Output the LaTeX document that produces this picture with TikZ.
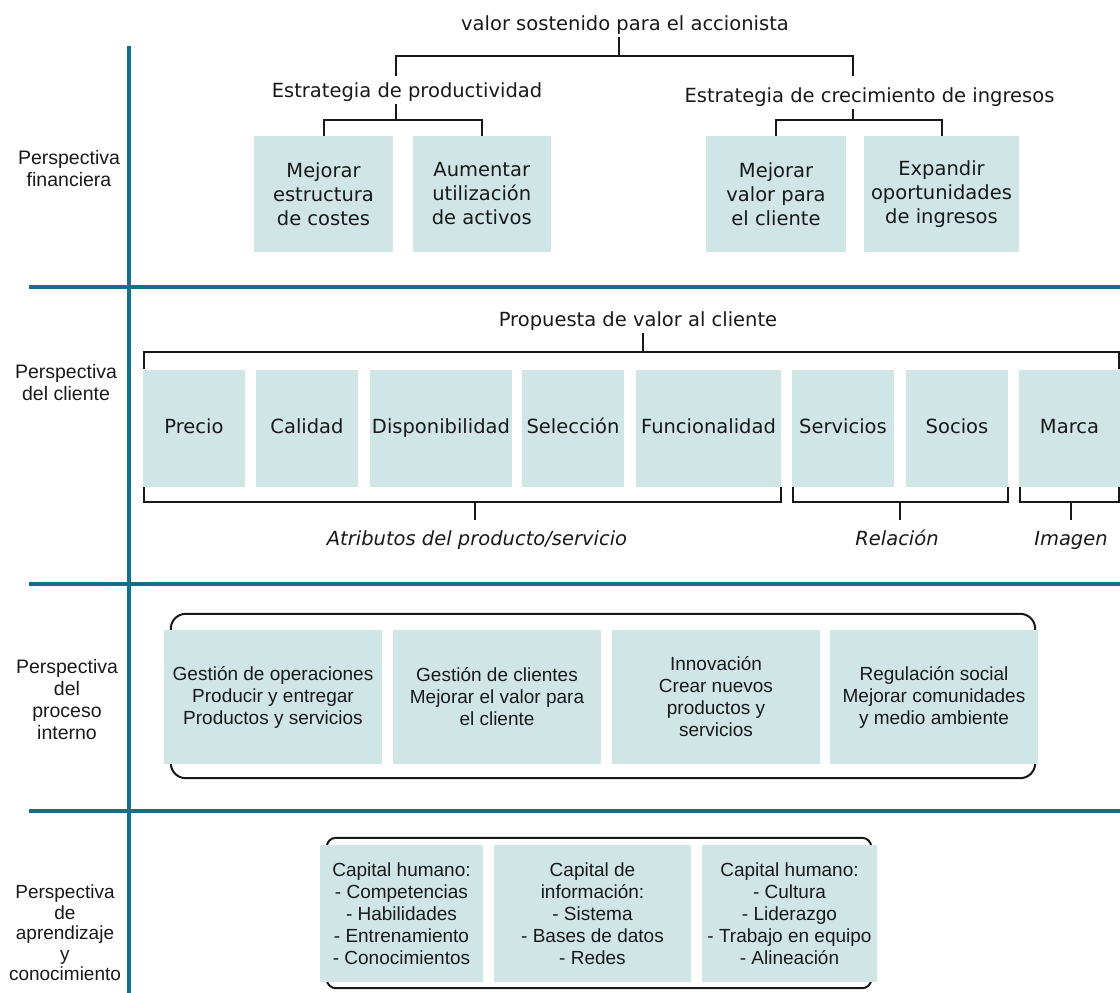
\documentclass[tikz,border=0pt]{standalone}
\usepackage{fontspec}
\setmainfont{DejaVu Sans}
\newfontfamily\narrowf{Liberation Sans}
\usepackage{tikz}
\usetikzlibrary{backgrounds}
\usetikzlibrary{calc}
\definecolor{bsc}{RGB}{20,112,138}
\definecolor{cel}{RGB}{208,230,230}
\definecolor{ink}{RGB}{25,25,25}
\tikzset{l/.style={font=\fontsize{19.5}{24}\selectfont, text=ink, align=center, inner sep=2pt}}
\tikzset{m/.style={font=\narrowf\fontsize{19}{22}\selectfont, text=ink, align=center, inner sep=2pt}}
\tikzset{p/.style={font=\narrowf\fontsize{19.5}{22}\selectfont, text=ink, align=center, inner sep=2pt}}
\tikzset{one/.style={text height=14.5pt, text depth=4.5pt}}
\tikzset{it/.style={font=\itshape\fontsize{19.5}{24}\selectfont}}
\tikzset{cell/.style={fill=cel, inner sep=0pt}}
\tikzset{brk/.style={draw=ink, line width=2pt}}
\tikzset{band/.style={draw=bsc, line width=4pt}}

\begin{document}
\begin{tikzpicture}[x=1pt, y=-1pt]
        \useasboundingbox (0,0) rectangle (1120,993);
        \foreach \y in {287,584,811}
          \draw[band] (29,\y) -- (1120,\y);
        \draw[band] (129,46) -- (129,993);

        \node[p] (fin) at (69,169) {Perspectiva\\financiera};
        \node[p] (cli) at (66,383) {Perspectiva\\del cliente};
        \node[p] (pro) at (67,700) {Perspectiva\\del\\proceso\\interno};
        \node[p, font=\narrowf\fontsize{19}{20.5}\selectfont] (apr) at (65,933)
          {Perspectiva\\de\\aprendizaje\\y\\conocimiento};

        \node[l] (valor) at (625,25) {valor sostenido para el accionista};
        \node[l] (ep) at (407,92) {Estrategia de productividad};
        \node[l] (ec) at (869.5,97) {Estrategia de crecimiento de ingresos};
        \node[cell, l, minimum width=139, minimum height=116] (m1) at (323.5,194)
          {Mejorar\\estructura\\de costes};
        \node[cell, l, minimum width=138.5, minimum height=116] (m2) at (481.75,194)
          {Aumentar\\utilización\\de activos};
        \node[cell, l, minimum width=140, minimum height=116] (m3) at (776,194)
          {Mejorar\\valor para\\el cliente};
        \node[cell, l, minimum width=155, minimum height=116] (m4) at (941.5,194)
          {Expandir\\oportunidades\\de ingresos};
        \coordinate (t0) at (619,56);
        \coordinate (t1) at (396,76);
        \coordinate (t2) at (853,76);
        \coordinate (e1) at (396,120);
        \coordinate (e2) at (853,120);
        \draw[brk] (t1) |- (t0) -| (t2);
        \draw[brk] (t0) -- (t0 |- valor.south);
        \draw[brk] (e1) -- (e1 |- ep.south);
        \draw[brk] (m1.north) |- (e1) -| (m2.north);
        \draw[brk] (e2) -- (e2 |- ec.south);
        \draw[brk] (m3.north) |- (e2) -| (m4.north);

        \node[l] (pv) at (638,321) {Propuesta de valor al cliente};
        \node[cell, l, one, minimum width=102, minimum height=117] (pr) at (194,428.5) {Precio};
        \node[cell, l, one, minimum width=102, minimum height=117] (ca) at (307,428.5) {Calidad};
        \node[cell, l, one, minimum width=142, minimum height=117] (di) at (441,428.5) {Disponibilidad};
        \node[cell, l, one, minimum width=102, minimum height=117] (se) at (573,428.5) {Selección};
        \node[cell, l, one, minimum width=145, minimum height=117] (fu) at (708.5,428.5) {Funcionalidad};
        \node[cell, l, one, minimum width=102, minimum height=117] (sv) at (843,428.5) {Servicios};
        \node[cell, l, one, minimum width=102, minimum height=117] (so) at (957,428.5) {Socios};
        \node[cell, l, one, minimum width=101, minimum height=117] (ma) at (1069.5,428.5) {Marca};
        \coordinate (v0) at (643,352);
        \draw[brk] ([xshift=1pt,yshift=1pt]pr.north west) |- (v0)
          -| ([xshift=-1pt,yshift=1pt]ma.north east);
        \draw[brk] (v0) -- (v0 |- pv.south);
        \node[l, it, one] (at) at (477,540) {Atributos del producto/servicio};
        \node[l, it, one] (re) at (897,540) {Relación};
        \node[l, it, one] (im) at (1071,540) {Imagen};
        \coordinate (a0) at (475,502);
        \coordinate (a1) at (475,520);
        \coordinate (r0) at (900,502);
        \coordinate (r1) at (900,520);
        \coordinate (i0) at (1071,502);
        \coordinate (i1) at (1071,520);
        \draw[brk] ([xshift=1pt]pr.south west) |- (a0) -| (fu.south east);
        \draw[brk] (a0) -- (a1);
        \draw[brk] ([xshift=1pt]sv.south west) |- (r0) -| (so.south east);
        \draw[brk] (r0) -- (r1);
        \draw[brk] ([xshift=1pt]ma.south west) |- (i0) -| ([xshift=-1pt]ma.south east);
        \draw[brk] (i0) -- (i1);

        \node[cell, m, minimum width=218, minimum height=134] (ga) at (273,697)
          {Gestión de operaciones\\Producir y entregar\\Productos y servicios};
        \node[cell, m, minimum width=208, minimum height=134] (gb) at (497,697)
          {Gestión de clientes\\Mejorar el valor para\\el cliente};
        \node[cell, m, minimum width=208, minimum height=134] (gc) at (716,697)
          {Innovación\\Crear nuevos\\productos y\\servicios};
        \node[cell, m, minimum width=208, minimum height=134] (gd) at (934,697)
          {Regulación social\\Mejorar comunidades\\y medio ambiente};

        \node[cell, m, minimum width=163, minimum height=137] (ka) at (401.5,913.5)
          {Capital humano:\\- Competencias\\- Habilidades\\- Entrenamiento\\- Conocimientos};
        \node[cell, m, minimum width=197, minimum height=137] (kb) at (592.5,913.5)
          {Capital de\\información:\\- Sistema\\- Bases de datos\\- Redes};
        \node[cell, m, minimum width=175, minimum height=137] (kc) at (789.5,913.5)
          {Capital humano:\\- Cultura\\- Liderazgo\\- Trabajo en equipo\\- Alineación};

        \begin{scope}[on background layer]
          \draw[brk, rounded corners=15pt] ([xshift=7pt,yshift=16pt]ga.north west)
            rectangle ([xshift=-3pt,yshift=-14pt]gd.south east);
          \draw[brk, rounded corners=9pt] ([xshift=7pt,yshift=7pt]ka.north west)
            rectangle ([xshift=-6pt,yshift=-6pt]kc.south east);
        \end{scope}
      \end{tikzpicture}
\end{document}
